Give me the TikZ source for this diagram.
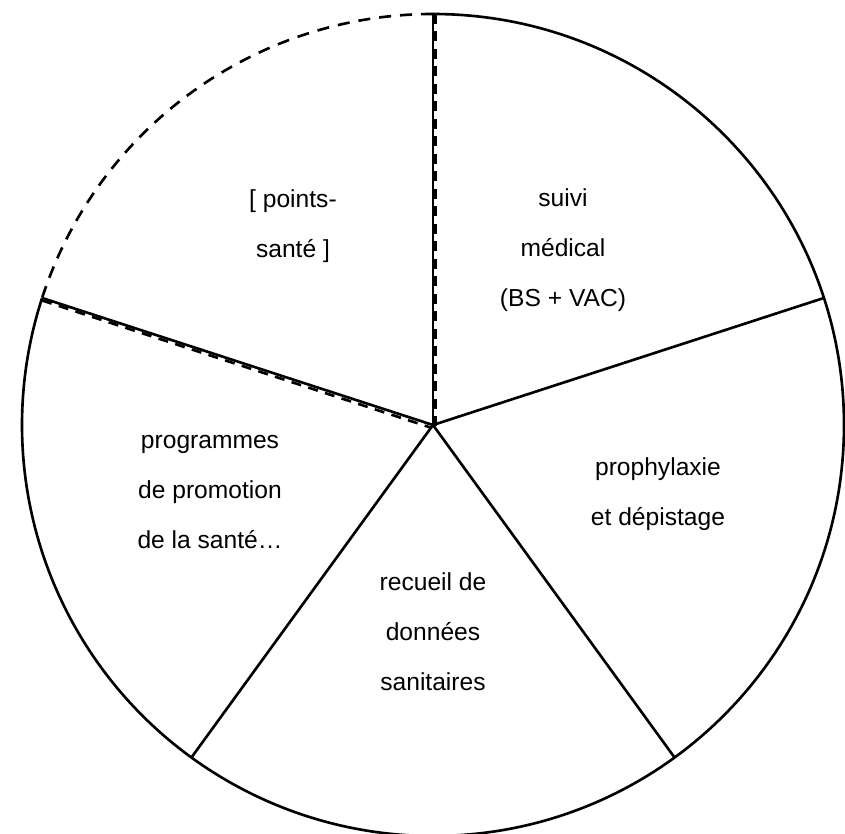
\documentclass[tikz,border=0pt]{standalone}
\usepackage{fontspec}
\setmainfont{Liberation Sans}
\usetikzlibrary{calc}

\begin{document}
\begin{tikzpicture}[line width=1.5pt,
  sectortext/.style={align=center, font=\fontsize{14}{28.5}\selectfont},
  spokedash/.style={dashed, dash pattern=on 0.2cm off 0.15cm}]
\useasboundingbox (-8.66,-8.18) rectangle (8.24,8.5);
% Define the parameters
\pgfmathsetmacro{\R}{8.22}
\pgfmathsetmacro{\off}{0.05}

% Points on the circle
\coordinate (O) at (0,0);
\foreach \a/\n in {90/top, 18/right, -54/lowright, -126/lowleft, 162/left}
  \coordinate (\n) at (\a:\R);

% Outside circle
\draw (top) arc(90:-198:\R);
\draw[dashed, dash pattern=on 0.24cm off 0.18cm] (top) arc(90:162:\R);

% Spokes
\foreach \n in {top, right, lowright, lowleft, left}
  \draw (O) -- (\n);
% Dashed border of the empty sector
\draw[spokedash] ($(top)+(\off,0)$) -- ($(O)+(\off,-\off)$);
\draw[spokedash] ($(left)+(0,-\off)$) -- ($(O)+(-\off,-\off)$);

% Labels
\node[sectortext] (points) at (-2.8,3.98) {[ points-\\santé ]};
\node[sectortext] (suivi) at (2.6,3.5) {suivi\\médical\\(BS + VAC)};
\node[sectortext] (prophy) at (4.5,-1.38) {prophylaxie\\et dépistage};
\node[sectortext] (recueil) at (0,-4.14) {recueil de\\données\\sanitaires};
\node[sectortext] (promo) at (-4.46,-1.34) {programmes\\de promotion\\de la santé…};

\end{tikzpicture}
\end{document}
